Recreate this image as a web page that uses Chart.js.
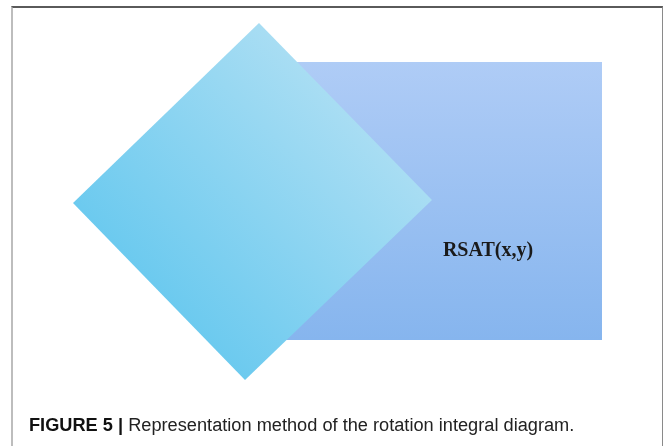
<!DOCTYPE html>
<html>
<head>
<meta charset="utf-8">
<script src="https://cdn.jsdelivr.net/npm/chart.js@4"></script>
<style>
	html, body { margin: 0; padding: 0; background: #fff; }
	#wrap { position: relative; width: 664px; height: 446px; overflow: hidden; }
	#frame {
		position: absolute; left: 11px; top: 6px; width: 649px; height: 460px;
		border-top: 2px solid #5a5a5a; border-left: 2px solid #bdbdbd; border-right: 1px solid #8a8a8a;
	}
	#chart { position: absolute; left: 0; top: 0; }
	#caption {
		position: absolute; left: 29px; top: 415px; white-space: nowrap;
		font-family: "Liberation Sans", Arial, sans-serif; font-size: 18px; line-height: 20px; color: #222;
		transform-origin: 0 0;
	}
	#caption b { color: #111; }
</style>
</head>
<body>
<div id="wrap">
	<div id="frame"></div>
	<canvas id="chart" width="664" height="446"></canvas>
	<div id="caption"><b>FIGURE 5 |</b> Representation method of the rotation integral diagram.</div>
</div>
<script>
	//Shape outlines in the diagram's own units (x to the right, y downwards)
	const diamondX = [259, 432, 245, 73, 259];
	const diamondY = [23, 200, 380, 203, 23];
	const rectX = [280, 602, 602, 280, 280];
	const rectY = [62, 62, 340, 340, 62];
	const labelText = 'RSAT(x,y)';
	const labelXY = [488, 250];

	function toPoints(xs, ys) {
		return xs.map(function(x, i) {
			return {x: x, y: ys[i]};
		});
	}

	function diamondFill(context) {
		const chart = context.chart;
		if (!chart.chartArea) {
			return '#86cff0';
		}
		const xScale = chart.scales.x;
		const yScale = chart.scales.y;
		const gradient = chart.ctx.createLinearGradient(
			xScale.getPixelForValue(159), yScale.getPixelForValue(292),
			xScale.getPixelForValue(346), yScale.getPixelForValue(112)
		);
		gradient.addColorStop(0, '#6ccaef');
		gradient.addColorStop(1, '#a8ddf3');
		return gradient;
	}

	function rectFill(context) {
		const chart = context.chart;
		if (!chart.chartArea) {
			return '#9cc0f2';
		}
		const yScale = chart.scales.y;
		const gradient = chart.ctx.createLinearGradient(0, yScale.getPixelForValue(62), 0, yScale.getPixelForValue(340));
		gradient.addColorStop(0, '#afccf6');
		gradient.addColorStop(1, '#86b5ee');
		return gradient;
	}

	const labelPlugin = {
		id: 'shapeLabel',
		afterDatasetsDraw: function(chart) {
			const ctx = chart.ctx;
			ctx.save();
			ctx.font = 'bold 20px "Liberation Serif", "Times New Roman", serif';
			ctx.fillStyle = '#1a1a1a';
			ctx.textAlign = 'center';
			ctx.textBaseline = 'alphabetic';
			ctx.fillText(labelText, chart.scales.x.getPixelForValue(labelXY[0]), chart.scales.y.getPixelForValue(labelXY[1]) + 6);
			ctx.restore();
		}
	};

	new Chart(document.getElementById('chart'), {
		type: 'scatter',
		data: {
			datasets: [
				{
					label: 'rotated',
					data: toPoints(diamondX, diamondY),
					showLine: true,
					fill: 'shape',
					backgroundColor: diamondFill,
					borderWidth: 0,
					borderColor: 'rgba(0,0,0,0)',
					pointRadius: 0,
					tension: 0,
					order: 0
				},
				{
					label: 'upright',
					data: toPoints(rectX, rectY),
					showLine: true,
					fill: 'shape',
					backgroundColor: rectFill,
					borderWidth: 0,
					borderColor: 'rgba(0,0,0,0)',
					pointRadius: 0,
					tension: 0,
					order: 1
				}
			]
		},
		options: {
			responsive: false,
			animation: false,
			layout: {padding: 0},
			scales: {
				x: {type: 'linear', min: 0, max: 664, display: false},
				y: {type: 'linear', min: 0, max: 446, reverse: true, display: false}
			},
			plugins: {
				legend: {display: false},
				tooltip: {enabled: false}
			}
		},
		plugins: [labelPlugin]
	});

	//Squeeze the caption to the width it takes in the figure
	const caption = document.getElementById('caption');
	caption.style.transform = 'scaleX(' + (545 / caption.offsetWidth) + ')';
</script>
</body>
</html>
